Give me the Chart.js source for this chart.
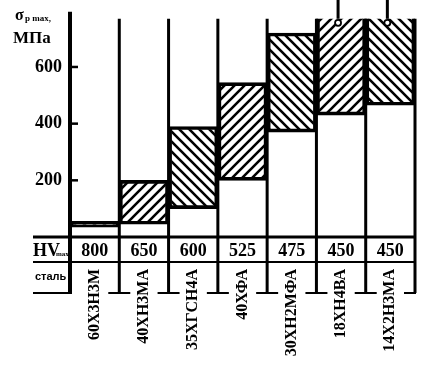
<!DOCTYPE html>
<html>
<head>
<meta charset="utf-8">
<script src="https://cdn.jsdelivr.net/npm/chart.js@4"></script>
<style>body{margin:0;background:#fff}</style>
</head>
<body>
<canvas id="myChart" width="435" height="366"></canvas>
<script>
// steel grades, sigma_p max range (MPa) and HV max
const steels = ['60Х3Н3М', '40ХН3МА', '35ХГСН4А', '40ХФА', '30ХН2МФА', '18ХН4ВА', '14Х2Н3МА'];
const sigmaMin = [35, 45, 100, 200, 370, 430, 465];
const sigmaMax = [55, 200, 390, 545, 720, 800, 800];
const hvMax = [800, 650, 600, 525, 475, 450, 450];
const yTicks = [200, 400, 600];
const yTop = 770;

const serif = '"Liberation Serif", "DejaVu Serif", serif';

// '/' rises to the right, '\' falls to the right
function hatch(dir) {
  const c = document.createElement('canvas');
  c.width = 10; c.height = 10;
  const g = c.getContext('2d');
  g.strokeStyle = '#000';
  g.lineWidth = 2.6;
  g.beginPath();
  if (dir === '/') {
    g.moveTo(-1, 11); g.lineTo(11, -1);
    g.moveTo(-1, 1); g.lineTo(1, -1);
    g.moveTo(9, 11); g.lineTo(11, 9);
  } else {
    g.moveTo(-1, -1); g.lineTo(11, 11);
    g.moveTo(9, -1); g.lineTo(11, 1);
    g.moveTo(-1, 9); g.lineTo(1, 11);
  }
  g.stroke();
  return g.createPattern(c, 'repeat');
}

function line(ctx, x1, y1, x2, y2, w) {
  ctx.lineWidth = w;
  ctx.beginPath();
  ctx.moveTo(x1, y1);
  ctx.lineTo(x2, y2);
  ctx.stroke();
}

const tablePlugin = {
  id: 'table',
  afterDraw(chart) {
    const ctx = chart.ctx;
    const a = chart.chartArea;
    const x = chart.scales.x, y = chart.scales.y;
    const w = x.getPixelForValue(1) - x.getPixelForValue(0);
    const edges = steels.map((s, i) => x.getPixelForValue(i) - w / 2);
    edges.push(a.right);
    const rowMid = a.bottom + 25, rowBot = a.bottom + 56, left = 33;
    ctx.save();
    ctx.strokeStyle = '#000';
    ctx.fillStyle = '#000';

    // columns
    edges.forEach((ex, i) => line(ctx, ex, i === 0 ? a.top - 7 : a.top, ex, rowBot, i === 0 ? 4 : 3));
    // rows
    line(ctx, left, a.bottom, a.right + 1, a.bottom, 3);
    line(ctx, left, rowMid, a.right + 1, rowMid, 2);
    line(ctx, left, rowBot, edges[0] + 2, rowBot, 2);
    edges.slice(1).forEach((ex, i) => {
      const last = i === edges.length - 2;
      line(ctx, ex - 11, rowBot, last ? ex + 1 : ex + 11, rowBot, 2);
    });

    // y tick marks pointing inward
    yTicks.forEach(v => {
      const py = y.getPixelForValue(v);
      line(ctx, a.left, py, a.left + 8, py, 2.5);
    });

    // arrows for values above the scale
    sigmaMax.forEach((v, i) => {
      if (v <= yTop) return;
      const px = x.getPixelForValue(i) - 3;
      line(ctx, px, 0, px, a.top, 3);
      ctx.beginPath();
      ctx.arc(px, a.top + 4, 3, 0, Math.PI * 2);
      ctx.fillStyle = '#fff';
      ctx.fill();
      ctx.lineWidth = 1.8;
      ctx.stroke();
      ctx.fillStyle = '#000';
    });

    // HV row
    ctx.textBaseline = 'alphabetic';
    ctx.textAlign = 'center';
    ctx.font = 'bold 18px ' + serif;
    hvMax.forEach((v, i) => ctx.fillText(String(v), x.getPixelForValue(i), a.bottom + 19));
    ctx.textAlign = 'left';
    ctx.fillText('HV', 33, a.bottom + 19);
    ctx.font = 'bold 7px ' + serif;
    ctx.fillText('max', 56, a.bottom + 19);
    ctx.font = 'bold 11px "Liberation Sans", sans-serif';
    ctx.fillText('сталь', 35, a.bottom + 43);

    // axis title
    ctx.font = 'bold 16px ' + serif;
    ctx.fillText('σ', 15, 20);
    ctx.font = 'bold 9px ' + serif;
    ctx.fillText('p max,', 25, 21);
    ctx.font = 'bold 17px ' + serif;
    ctx.fillText('МПа', 13, 43);
    ctx.restore();
  }
};

const data = {
  labels: steels,
  datasets: [{
    label: 'σp max',
    data: steels.map((s, i) => [sigmaMin[i], sigmaMax[i]]),
    backgroundColor: steels.map((s, i) => hatch(i % 2 ? '/' : '\\')),
    borderColor: '#000',
    borderWidth: 3,
    borderSkipped: false,
    barPercentage: 1,
    categoryPercentage: 1,
    clip: 0
  }]
};

const config = {
  type: 'bar',
  data: data,
  options: {
    responsive: false,
    animation: false,
    layout: { padding: { left: 0, top: 17, right: 20, bottom: 0 } },
    plugins: { legend: { display: false }, tooltip: { enabled: false } },
    scales: {
      x: {
        grid: { display: false, drawTicks: false },
        border: { display: false },
        afterFit: s => { s.height = 129; s.paddingLeft = 0; s.paddingRight = 0; },
        ticks: {
          autoSkip: false,
          minRotation: 90,
          maxRotation: 90,
          padding: 32,
          color: '#000',
          font: { family: serif, size: 16, weight: 'bold' }
        }
      },
      y: {
        min: 0,
        max: yTop,
        grid: { display: false, drawTicks: false },
        border: { display: false },
        afterFit: s => { s.width = 70; },
        afterBuildTicks: s => { s.ticks = yTicks.map(v => ({ value: v })); },
        ticks: {
          padding: 8,
          color: '#000',
          font: { family: serif, size: 18, weight: 'bold' }
        }
      }
    }
  },
  plugins: [tablePlugin]
};

const myChart = new Chart(document.getElementById('myChart'), config);
</script>
</body>
</html>
